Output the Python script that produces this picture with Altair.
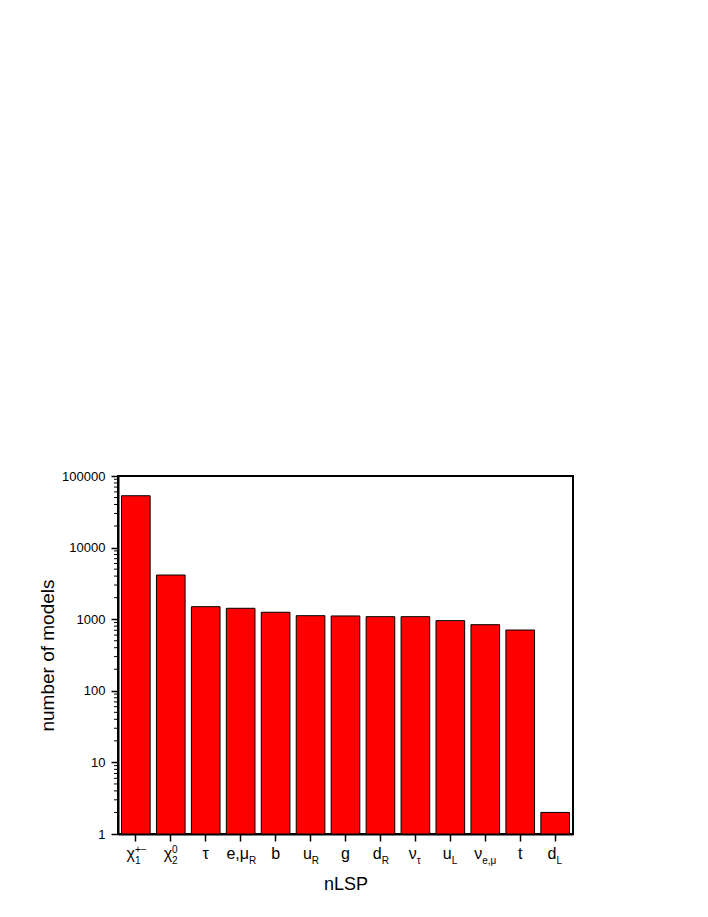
import altair as alt
import pandas as pd

# categories (x order), label pieces
keys = ["chi1pm", "chi20", "tau", "emuR", "b", "uR", "g", "dR", "nutau", "uL", "nuemu", "t", "dL"]
main = ["χ", "χ", "τ", "e,μ", "b", "u", "g", "d", "ν", "u", "ν", "t", "d"]
sub = ["1", "2", "", "R", "", "R", "", "R", "τ", "L", "e,μ", "", "L"]
sup = ["+−", "0", "", "", "", "", "", "", "", "", "", "", ""]
# number of models per nLSP
counts = [53000, 4140, 1495, 1420, 1250, 1120, 1110, 1085, 1085, 955, 838, 706, 2]
baseline_value = 1

major_ticks = [1, 10, 100, 1000, 10000, 100000]
minor_ticks = [2, 3, 4, 5, 6, 7, 8, 9,
               20, 30, 40, 50, 60, 70, 80, 90,
               200, 300, 400, 500, 600, 700, 800, 900,
               2000, 3000, 4000, 5000, 6000, 7000, 8000, 9000,
               20000, 30000, 40000, 50000, 60000, 70000, 80000, 90000]

df = pd.DataFrame({"key": keys, "main": main, "sub": sub, "sup": sup, "count": counts})
dminor = pd.DataFrame({"v": minor_ticks})

FONT = "Liberation Sans"
W, H = 455, 358

xenc = alt.X("key:N", sort=keys,
             scale=alt.Scale(paddingInner=0.18, paddingOuter=0.1),
             axis=alt.Axis(labels=False, title="nLSP", ticks=True, tickSize=7,
                           tickColor="black", tickWidth=1.5, domainColor="black",
                           domainWidth=2, titleFont=FONT, titleFontSize=18,
                           titleFontWeight="normal", titleColor="black",
                           titlePadding=34))

yscale = alt.Scale(type="log", domain=[1, 100000], nice=False)

bars = alt.Chart(df).mark_bar(color="#ff0000", stroke="black", strokeWidth=1).encode(
    x=xenc,
    y=alt.Y("count:Q", scale=yscale, stack=None,
            axis=alt.Axis(values=major_ticks, format="d", title="number of models",
                          tickSize=7, tickWidth=1.5, tickColor="black",
                          domainColor="black", domainWidth=2, grid=False,
                          labelFont=FONT, labelFontSize=13, labelColor="black",
                          labelPadding=6, titleFont=FONT, titleFontSize=19,
                          titleFontWeight="normal", titleColor="black",
                          titlePadding=4)),
    y2=alt.datum(baseline_value),
)

minor = alt.Chart(dminor).mark_rule(color="black", strokeWidth=1).encode(
    y=alt.Y("v:Q", title="number of models"),
    x=alt.value(-4),
    x2=alt.value(0),
)

xl = alt.X("key:N", sort=keys)

with_off = alt.Chart(df).transform_filter(
    "datum.sub != '' || datum.sup != ''"
).transform_calculate(
    off="length(datum.main) * 3.5 - max(length(datum.sub), length(datum.sup)) * 2.2"
)

main_plain = alt.Chart(df).transform_filter(
    "datum.sub == '' && datum.sup == ''"
).mark_text(font=FONT, fontSize=16, color="black", align="center", baseline="alphabetic").encode(
    x=xl, y=alt.value(383), text="main:N")

main_off = with_off.mark_text(font=FONT, fontSize=16, color="black", align="right",
                              baseline="alphabetic", dx={"expr": "datum.off"}).encode(
    x=xl, y=alt.value(383), text="main:N")

sub_txt = with_off.mark_text(font=FONT, fontSize=10, color="black", align="left",
                             baseline="alphabetic", dx={"expr": "datum.off"}).encode(
    x=xl, y=alt.value(388), text="sub:N")

sup_txt = with_off.mark_text(font=FONT, fontSize=10, color="black", align="left",
                             baseline="alphabetic", dx={"expr": "datum.off"}).encode(
    x=xl, y=alt.value(377), text="sup:N")

chart = alt.layer(bars, minor, main_plain, main_off, sub_txt, sup_txt).properties(
    width=W, height=H,
    background="white",
    autosize=alt.AutoSizeParams(type="none"),
    padding={"left": 110, "top": 468, "right": 20, "bottom": 60},
).configure_view(stroke="black", strokeWidth=2)

chart.save("out.html", embed_options={"renderer": "svg", "actions": False})
